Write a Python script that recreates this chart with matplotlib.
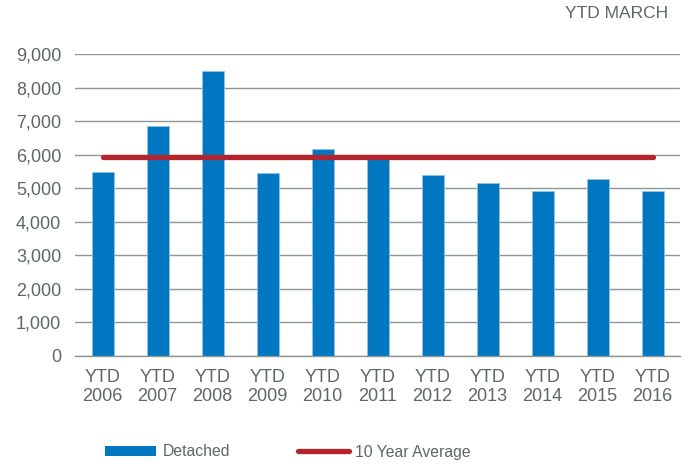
import matplotlib.pyplot as plt
from matplotlib.patches import Patch
from matplotlib.lines import Line2D

plt.rcParams['font.family'] = ['Liberation Sans', 'DejaVu Sans']

# Data
years = ['2006', '2007', '2008', '2009', '2010', '2011',
         '2012', '2013', '2014', '2015', '2016']
detached = [5490, 6860, 8490, 5455, 6160, 5900,
            5400, 5150, 4920, 5280, 4920]
ten_year_avg = [5920] * len(years)
tick_labels = ['YTD\n' + y for y in years]

text_col = '#5d6863'
grid_col = '#8e9893'
blue = '#0077c0'
red = '#b5232d'

fig = plt.figure(figsize=(6.91, 4.66), dpi=100)
ax = fig.add_axes([75 / 691, 1 - 356 / 466, 605 / 691, 302 / 466])

x = list(range(len(years)))
ax.bar(x, detached, width=0.4, color=blue, edgecolor='#8fc3e6', linewidth=0.6, zorder=2)
ax.plot(x, ten_year_avg, color=red, linewidth=3.8, solid_capstyle='round', zorder=3)

ax.set_xlim(-0.5, len(years) - 0.5)
ax.set_ylim(0, 9000)
ax.set_yticks(range(0, 9001, 1000))
ax.set_yticklabels([f'{v:,}' for v in range(0, 9001, 1000)])
ax.set_xticks(x)
ax.set_xticklabels(tick_labels)

ax.grid(axis='y', color=grid_col, linewidth=1.0, zorder=0)
ax.tick_params(axis='both', length=0, labelsize=13, colors=text_col)
ax.tick_params(axis='y', pad=10)
ax.tick_params(axis='x', pad=9)
for s in ['top', 'right', 'left']:
    ax.spines[s].set_visible(False)
ax.spines['bottom'].set_color(grid_col)
ax.spines['bottom'].set_linewidth(1.0)

fig.text(668 / 691, 1 - 14 / 466, 'YTD MARCH', ha='right', va='center',
         fontsize=12.5, color=text_col)

handles = [Patch(facecolor=blue, edgecolor='none'),
           Line2D([0], [0], color=red, linewidth=3.8, solid_capstyle='round')]
fig.legend(handles, ['Detached', '10 Year Average'], loc='center',
           bbox_to_anchor=(288 / 691, 1 - 452 / 466), ncol=2, frameon=False,
           fontsize=11.3, labelcolor=text_col, handlelength=3.25,
           handleheight=0.55, handletextpad=0.4, columnspacing=4.3)

fig.savefig('out.png', dpi=100)
